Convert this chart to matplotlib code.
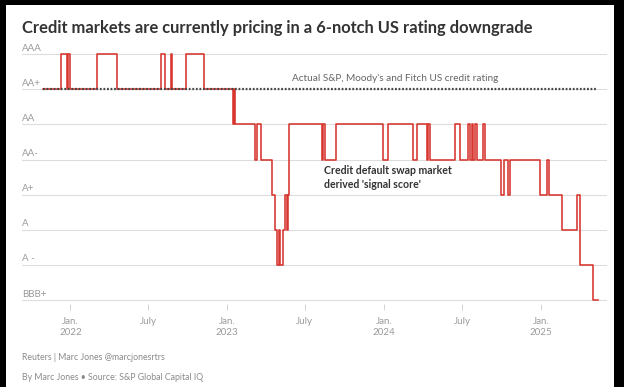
import numpy as np
import matplotlib
matplotlib.use("Agg")
import matplotlib.pyplot as plt
import matplotlib.dates as mdates
from matplotlib.patches import Rectangle

# Данные: шкала рейтингов и ступенчатый "signal score" по CDS
ratings = ['BBB+', 'A -', 'A', 'A+', 'AA-', 'AA', 'AA+', 'AAA']

change_dates = [
    '2021-10-29', '2021-12-11', '2021-12-25', '2021-12-27', '2021-12-31',
    '2022-03-04', '2022-04-20', '2022-08-01', '2022-08-10', '2022-08-23',
    '2022-08-26', '2022-09-28', '2022-11-08', '2023-01-15', '2023-01-17',
    '2023-01-19', '2023-03-07', '2023-03-11', '2023-03-21', '2023-04-16',
    '2023-04-23', '2023-04-27', '2023-05-02', '2023-05-04', '2023-05-11',
    '2023-05-16', '2023-05-21', '2023-05-23', '2023-05-25', '2023-08-09',
    '2023-08-12', '2023-08-16', '2023-09-12', '2023-12-31', '2024-01-11',
    '2024-03-08', '2024-03-18', '2024-04-11', '2024-04-14', '2024-04-18',
    '2024-06-15', '2024-06-27', '2024-07-15', '2024-07-20', '2024-07-24',
    '2024-07-27', '2024-07-31', '2024-08-05', '2024-08-19', '2024-08-23',
    '2024-10-01', '2024-10-06', '2024-10-16', '2024-10-22', '2024-12-29',
    '2025-01-16', '2025-01-21', '2025-02-19', '2025-03-26', '2025-04-01',
    '2025-05-03', '2025-05-14',
]
signal_rating = [
    'AA+', 'AAA', 'AA+', 'AAA', 'AA+',
    'AAA', 'AA+', 'AAA', 'AA+', 'AAA',
    'AA+', 'AAA', 'AA+', 'AA', 'AA+',
    'AA', 'AA-', 'AA', 'AA-', 'A+',
    'A', 'A -', 'A', 'A -', 'A',
    'A+', 'A', 'A+', 'AA', 'AA-',
    'AA', 'AA-', 'AA', 'AA-', 'AA',
    'AA-', 'AA', 'AA-', 'AA', 'AA-',
    'AA', 'AA-', 'AA', 'AA-', 'AA',
    'AA-', 'AA', 'AA-', 'AA', 'AA-',
    'A+', 'AA-', 'A+', 'AA-', 'A+',
    'AA-', 'A+', 'A', 'A+', 'A -',
    'BBB+', 'BBB+',
]

actual_rating = 'AA+'
actual_span = ['2021-10-29', '2025-05-10']

tick_dates = ['2022-01-01', '2022-07-01', '2023-01-01', '2023-07-01',
              '2024-01-01', '2024-07-01', '2025-01-01']
tick_labels = ['Jan.\n2022', 'July', 'Jan.\n2023', 'July',
               'Jan.\n2024', 'July', 'Jan.\n2025']

# ---------------------------------------------------------------
W, H = 624, 387
fig = plt.figure(figsize=(W / 100, H / 100), dpi=100)
fig.patch.set_facecolor('black')
fig.patches.append(Rectangle((6 / W, 0), 608 / W, 1 - 5 / H,
                             transform=fig.transFigure, facecolor='white',
                             edgecolor='none', zorder=-10))

plt.rcParams['font.family'] = ['Lato', 'DejaVu Sans']

# оси: BBB+ на y=300px, AAA на y=54.3px
unit = (300 - 54.3) / 7
ax_bottom = 300 + 0.1 * unit
ax_top = 54.3 - 0.1 * unit
ax = fig.add_axes([22 / W, 1 - ax_bottom / H, (607 - 22) / W, (ax_bottom - ax_top) / H])
ax.set_facecolor('none')
ax.set_ylim(-0.1, 7.1)
ax.set_xlim(mdates.datestr2num('2021-09-10'), mdates.datestr2num('2025-06-04'))

for s in ax.spines.values():
    s.set_visible(False)

level = {r: i for i, r in enumerate(ratings)}
for i, r in enumerate(ratings):
    ax.axhline(i, color='#dddddd', lw=0.8, zorder=1)
    ax.text(0, i + 0.04, r, transform=ax.get_yaxis_transform(), ha='left', va='bottom',
            fontsize=7, color='#9a9a9a', zorder=2)
ax.set_yticks([])

x = mdates.datestr2num(change_dates)
y = [level[r] for r in signal_rating]
ax.plot(x, y, drawstyle='steps-post', color='#d8352e', lw=1.15, zorder=3)

ax.plot(mdates.datestr2num(actual_span), [level[actual_rating]] * 2,
        color='#444444', lw=1.6, ls=(0, (0.8, 0.8)), zorder=4)

ax.text(mdates.datestr2num('2023-06-01'), level[actual_rating] + 0.18,
        "Actual S&P, Moody's and Fitch US credit rating", fontsize=7.2,
        color='#666666', ha='left', va='bottom')
ax.text(mdates.datestr2num('2023-08-15'), level['AA-'] - 0.16,
        "Credit default swap market\nderived 'signal score'", fontsize=7.6,
        fontweight='bold', color='#333333', ha='left', va='top', linespacing=1.3)

ax.set_xticks(mdates.datestr2num(tick_dates))
ax.set_xticklabels(tick_labels)
ax.tick_params(axis='x', length=4, width=0.6, color='#cccccc', labelcolor='#9a9a9a',
               labelsize=7, pad=6)

fig.text(22 / W, 1 - 28 / H, 'Credit markets are currently pricing in a 6-notch US rating downgrade',
         fontsize=11.9, fontweight='bold', color='#333333', ha='left', va='center')
fig.text(22 / W, 1 - 358 / H, 'Reuters | Marc Jones @marcjonesrtrs',
         fontsize=6.3, color='#8a8a8a', ha='left', va='center')
fig.text(22 / W, 1 - 378 / H, 'By Marc Jones \u2022 Source: S&P Global Capital IQ',
         fontsize=6.3, color='#8a8a8a', ha='left', va='center')

fig.savefig('out.png', dpi=100, facecolor=fig.get_facecolor())
